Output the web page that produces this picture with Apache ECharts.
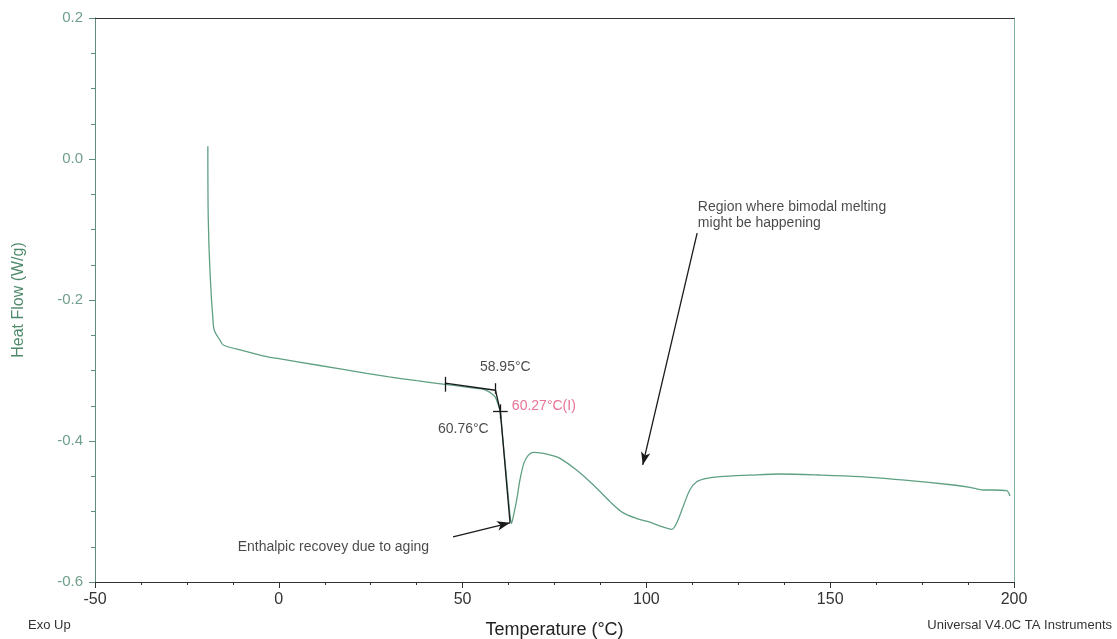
<!DOCTYPE html>
<html>
<head>
<meta charset="utf-8">
<script src="https://cdn.jsdelivr.net/npm/echarts@6/dist/echarts.min.js"></script>
<style>
  html, body { margin: 0; padding: 0; background: #fff; }
  #chart { width: 1117px; height: 639px; }
</style>
</head>
<body>
<div id="chart"></div>
<script>
// DSC heat-flow trace: temperature (°C) and heat flow (W/g)
const temperature = [
  -19.3, -19.2, -18.7, -17.8, -17.4, -16.0, -15.1, -10.0, -3.3, 0, 10.3, 23.9,
  30, 37.5, 45.2, 50, 55, 56.6, 58.8, 59.7, 60.2, 61.0, 62.0, 62.9, 63.3, 63.8,
  64.7, 65.6, 66.7, 67.9, 69.2, 72.0, 74.7, 76.5, 81.0, 85.6, 90.1, 93.7, 97.4,
  100.5, 103.7, 106.9, 108.2, 110.0, 111.8, 113.7, 116.4, 120.0, 128.0, 136.3,
  147.0, 158.0, 171.7, 183.5, 188.0, 191.7, 194.4, 198.0, 198.9
];
const heatFlow = [
  0.018, -0.082, -0.162, -0.236, -0.245, -0.257, -0.2638, -0.2715, -0.2804,
  -0.2833, -0.2922, -0.304, -0.3089, -0.3145, -0.3196, -0.3228, -0.3262, -0.3285,
  -0.337, -0.349, -0.358, -0.400, -0.455, -0.505, -0.517, -0.507, -0.484, -0.455,
  -0.431, -0.420, -0.416, -0.4175, -0.421, -0.4246, -0.441, -0.4624, -0.486,
  -0.502, -0.510, -0.5145, -0.5206, -0.5253, -0.5167, -0.493, -0.4695, -0.4577,
  -0.453, -0.4506, -0.4485, -0.4468, -0.4482, -0.4506, -0.4563, -0.4624, -0.4657,
  -0.4695, -0.4695, -0.4705, -0.478
];

// Axis ticks
const xTicks = [-50, 0, 50, 100, 150, 200];
const yTicks = [-0.6, -0.4, -0.2, 0.0, 0.2];

// Glass transition analysis (onset, inflection, end)
const onsetTemp = 58.95;
const inflectionTemp = 60.27;
const endTemp = 60.76;
const baselineStart = [45.2, -0.318];
const onsetPoint = [onsetTemp, -0.328];
const inflectionPoint = [inflectionTemp, -0.358];
const stepBottom = [62.9, -0.516];

// Annotation arrows: [from, to]
const agingArrow = [[47.4, -0.536], [62.9, -0.516]];
const bimodalArrow = [[113.8, -0.105], [99.0, -0.434]];

const curveColor = '#5fa083';
const axisGreen = '#5f8f7a';
const ink = '#1a1a1a';
const font = 'Liberation Sans, Arial, sans-serif';

const chart = echarts.init(document.getElementById('chart'), null, { renderer: 'canvas' });

const curve = temperature.map((t, i) => [t, heatFlow[i]]);

function seg(a, b) {
  return [{ coord: a, symbol: 'none' }, { coord: b, symbol: 'none' }];
}
function arrow(pair) {
  return [{ coord: pair[0], symbol: 'none' },
          { coord: pair[1], symbol: 'arrow', symbolSize: [7, 13] }];
}

chart.setOption({
  animation: false,
  backgroundColor: '#ffffff',
  textStyle: { fontFamily: font },
  grid: { left: 95, right: 103, top: 18, bottom: 57, containLabel: false, outerBoundsMode: 'none' },
  xAxis: [{
    type: 'value',
    min: xTicks[0], max: xTicks[xTicks.length - 1], interval: 50,
    name: 'Temperature (°C)', nameLocation: 'middle', nameGap: 39,
    nameTextStyle: { color: '#222', fontSize: 18 },
    axisLine: { show: true, onZero: false, lineStyle: { color: '#333', width: 1 } },
    axisTick: { show: true, inside: false, length: 6, lineStyle: { color: '#333' } },
    minorTick: { show: true, splitNumber: 4, length: 3, lineStyle: { color: '#333' } },
    axisLabel: { color: '#333', fontSize: 16, margin: 10 },
    splitLine: { show: false }
  }, {
    type: 'value', position: 'top',
    min: xTicks[0], max: xTicks[xTicks.length - 1],
    axisLine: { show: true, onZero: false, lineStyle: { color: '#333', width: 1.2 } },
    axisTick: { show: false }, axisLabel: { show: false }, splitLine: { show: false }
  }],
  yAxis: [{
    type: 'value',
    min: yTicks[0], max: yTicks[yTicks.length - 1], interval: 0.2,
    name: 'Heat Flow (W/g)', nameLocation: 'middle', nameGap: 68,
    nameTextStyle: { color: '#4f8a6c', fontSize: 16 },
    axisLine: { show: true, onZero: false, lineStyle: { color: axisGreen, width: 1 } },
    axisTick: { show: true, inside: false, length: 6, lineStyle: { color: axisGreen } },
    minorTick: { show: true, splitNumber: 4, length: 4, lineStyle: { color: axisGreen } },
    axisLabel: { color: '#6f9f8a', fontSize: 15, margin: 12,
      formatter: v => v.toFixed(1) },
    splitLine: { show: false }
  }, {
    type: 'value', position: 'right',
    min: yTicks[0], max: yTicks[yTicks.length - 1],
    axisLine: { show: true, onZero: false, lineStyle: { color: '#7fb39b', width: 1 } },
    axisTick: { show: false }, axisLabel: { show: false }, splitLine: { show: false }
  }],
  series: [
    {
      name: 'Heat Flow',
      type: 'line',
      data: curve,
      showSymbol: false,
      smooth: 0.3,
      lineStyle: { color: curveColor, width: 1.3 },
      z: 3
    },
    {
      // construction lines of the glass-transition analysis and arrows
      name: 'construction',
      type: 'line',
      data: [],
      markLine: {
        silent: true,
        symbol: ['none', 'none'],
        label: { show: false },
        lineStyle: { color: ink, width: 1.3, type: 'solid' },
        data: [
          seg(baselineStart, onsetPoint),
          seg(onsetPoint, inflectionPoint),
          seg(inflectionPoint, stepBottom),
          // tick marks on the baseline
          seg([baselineStart[0], -0.309], [baselineStart[0], -0.330]),
          seg([onsetTemp, -0.318], [onsetTemp, -0.333]),
          // inflection crosshair
          seg([inflectionTemp - 2.0, inflectionPoint[1]], [inflectionTemp + 2.0, inflectionPoint[1]]),
          seg([inflectionTemp, inflectionPoint[1] + 0.010], [inflectionTemp, inflectionPoint[1] - 0.010]),
          // arrows
          arrow(agingArrow),
          arrow(bimodalArrow)
        ]
      },
      z: 4
    },
    {
      name: 'notes',
      type: 'scatter',
      symbolSize: 0,
      silent: true,
      label: {
        show: true, position: 'right', distance: 0,
        color: ink, fontSize: 14, align: 'left', verticalAlign: 'middle',
        formatter: p => p.data.text
      },
      data: [
        { value: [54.7, -0.295], text: onsetTemp.toFixed(2) + '°C' },
        { value: [63.4, -0.350], text: inflectionTemp.toFixed(2) + '°C(I)',
          label: { color: '#e34d79' } },
        { value: [43.3, -0.383], text: endTemp.toFixed(2) + '°C' },
        { value: [-11.2, -0.551], text: 'Enthalpic recovey due to aging' },
        { value: [114.0, -0.079], text: 'Region where bimodal melting\nmight be happening',
          label: { lineHeight: 16 } }
      ],
      z: 5
    }
  ],
  graphic: [
    { type: 'text', left: 28, top: 619,
      style: { text: 'Exo Up', fill: '#333', fontSize: 13, fontFamily: font } },
    { type: 'text', right: 5, top: 619,
      style: { text: 'Universal V4.0C TA Instruments', fill: '#333', fontSize: 13, fontFamily: font } }
  ]
});
</script>
</body>
</html>
